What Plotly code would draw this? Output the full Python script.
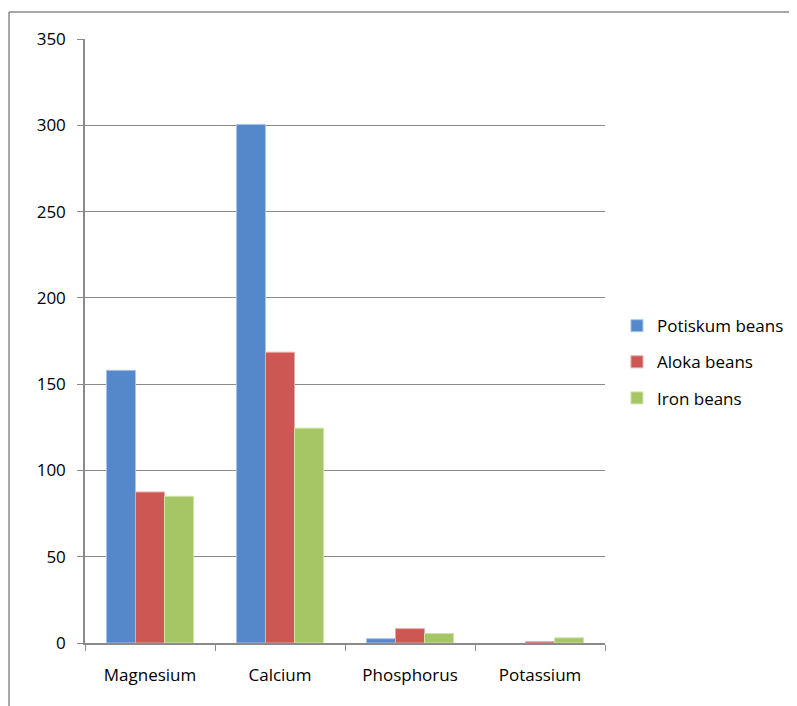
import plotly.graph_objects as go

categories = ["Magnesium", "Calcium", "Phosphorus", "Potassium"]
potiskum = [158, 300.5, 2.5, 0.0]
aloka = [87.5, 168.5, 8.3, 0.8]
iron = [85, 124.5, 5.5, 3.0]
series_names = ["Potiskum beans", "Aloka beans", "Iron beans"]
colors = ["#5588CA", "#CC5753", "#A6C665"]
edge = ["#A9C4E6", "#E3A9A7", "#CFE2AE"]

# page body has an 8px margin; figure sized to fit the 797x706 window
W, H = 789, 698
L, R, T, B = 77, 192, 31, 63
pw, ph = W - L - R, H - T - B

fig = go.Figure()
for name, vals, c, e in zip(series_names, [potiskum, aloka, iron], colors, edge):
    widths = [1 if v > 0 else 0 for v in vals]
    fig.add_trace(go.Bar(x=categories, y=vals, name=name, legendgroup=name,
                         marker=dict(color=c, line=dict(color=e, width=widths))))

font = "Open Sans, Lato, sans-serif"
fig.update_layout(
    width=W, height=H,
    margin=dict(l=L, r=R, t=T, b=B, pad=0, autoexpand=False),
    paper_bgcolor="white", plot_bgcolor="white",
    barmode="group", bargap=0.33, bargroupgap=0,
    font=dict(family=font, size=17, color="#000000"),
    legend=dict(x=1.023, y=0.465, xanchor="left", yanchor="middle",
                traceorder="grouped", tracegroupgap=11,
                font=dict(size=17), itemwidth=30, bgcolor="rgba(0,0,0,0)"),
    showlegend=True,
)
fig.update_yaxes(range=[0, 350], dtick=50, showgrid=True, gridcolor="#8A8A8A", gridwidth=1,
                 showline=True, linecolor="#8A8A8A", linewidth=1.5,
                 ticks="outside", ticklen=6, tickcolor="#8A8A8A",
                 zeroline=False, tickfont=dict(size=17), ticklabelstandoff=8)
fig.update_xaxes(showline=True, linecolor="#8A8A8A", linewidth=2,
                 ticks="outside", ticklen=6, tickcolor="#8A8A8A", tickson="boundaries",
                 tickfont=dict(size=17), showgrid=False, ticklabelstandoff=16)

# outer chart frame: only left and top edges are visible in the window
xl = (1 - L) / pw
yt = 1 + (T - 4) / ph
xr = (W + 20 - L) / pw
yb = -(H + 20 - (T + ph)) / ph
frame = dict(color="#8A8A8A", width=1.5)
fig.add_shape(type="line", xref="paper", yref="paper", x0=xl, x1=xl, y0=yb, y1=yt, line=frame, layer="below")
fig.add_shape(type="line", xref="paper", yref="paper", x0=xl, x1=xr, y0=yt, y1=yt, line=frame, layer="below")

fig.write_html("out.html", config={"displayModeBar": False})
